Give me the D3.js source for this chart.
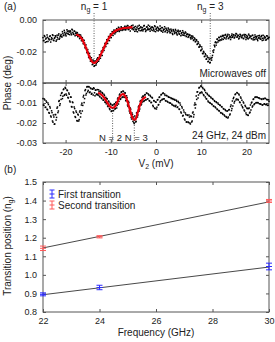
<!DOCTYPE html>
<html>
<head>
<meta charset="utf-8">
<script src="https://cdn.jsdelivr.net/npm/d3@7"></script>
<style>
  body { margin: 0; background: #fff; }
  svg { display: block; font-family: 'Liberation Sans', Arial, sans-serif; }
  .axis path { stroke: none; }
  .axis line { stroke: #555; }
  .axis text { fill: #222; font-size: 9px; }
</style>
</head>
<body>
<div id="chart"></div>
<script>
// ---------- panel (a): gate sweep, V2 from -25 mV in 0.2 mV steps ----------
// two interleaved sweeps: set A starts at -25, set B at -24.9
const sweepStartA = -25;
const sweepStartB = -24.9;
const sweepStep = 0.2;
// phase in units of 1e-4 deg
const phaseOffA = [
  -112,-130,-105,-121,-138,-109,-117,-126,-101,-124,
  -119,-98,-131,-113,-106,-127,-110,-96,-122,-104,
  -92,-108,-85,-99,-78,-94,-83,-71,-90,-76,
  -68,-84,-59,-79,-91,-72,-86,-97,-80,-103,
  -94,-115,-104,-130,-124,-150,-146,-180,-176,-209,
  -205,-239,-231,-261,-254,-281,-266,-290,-262,-278,
  -268,-244,-251,-222,-227,-198,-203,-174,-176,-148,
  -151,-126,-130,-107,-112,-89,-97,-76,-85,-67,
  -77,-63,-72,-58,-68,-52,-64,-49,-61,-55,
  -47,-60,-41,-55,-38,-58,-44,-50,-36,-53,
  -62,-45,-58,-70,-49,-39,-64,-52,-44,-67,
  -48,-60,-35,-57,-66,-43,-52,-61,-40,-55,
  -63,-46,-51,-70,-42,-59,-66,-48,-55,-62,
  -54,-71,-49,-66,-58,-75,-52,-64,-69,-57,
  -63,-78,-66,-85,-61,-74,-80,-68,-88,-72,
  -76,-91,-70,-85,-95,-78,-88,-99,-82,-94,
  -90,-104,-98,-112,-101,-118,-109,-126,-120,-136,
  -128,-152,-147,-171,-166,-190,-184,-214,-205,-231,
  -221,-247,-236,-262,-249,-270,-241,-238,-196,-190,
  -170,-139,-145,-121,-131,-112,-126,-106,-120,-104,
  -98,-114,-92,-109,-101,-118,-95,-106,-112,-89,
  -104,-93,-111,-97,-88,-107,-99,-115,-91,-102,
  -110,-96,-118,-101,-93,-113,-106,-120,-98,-108,
  -103,-119,-97,-114,-125,-106,-111,-122,-100,-117,
  -108,-121,-99,-116,-127,-104,-113,-124,-102,-119,
  -110
];
const phaseOffB = [
  -131,-99,-142,-115,-95,-136,-120,-104,-140,-112,
  -94,-128,-117,-100,-135,-97,-121,-88,-115,-99,
  -105,-74,-96,-66,-88,-101,-62,-85,-70,-93,
  -75,-94,-63,-88,-70,-100,-78,-85,-106,-92,
  -118,-95,-131,-112,-150,-129,-175,-158,-205,-188,
  -236,-212,-262,-240,-283,-255,-294,-260,-287,-249,
  -240,-262,-221,-243,-199,-225,-176,-193,-150,-168,
  -125,-149,-105,-131,-90,-112,-74,-98,-64,-88,
  -79,-55,-70,-46,-73,-60,-43,-66,-50,-62,
  -40,-63,-54,-35,-61,-48,-70,-42,-57,-33,
  -50,-72,-41,-60,-75,-55,-34,-68,-47,-59,
  -69,-38,-56,-73,-45,-62,-33,-58,-71,-49,
  -44,-67,-59,-37,-74,-53,-45,-69,-60,-38,
  -66,-48,-77,-60,-43,-70,-58,-80,-51,-73,
  -82,-58,-71,-92,-67,-86,-60,-79,-95,-65,
  -87,-72,-100,-81,-68,-97,-84,-76,-105,-89,
  -110,-92,-95,-120,-108,-102,-130,-114,-138,-125,
  -155,-138,-172,-158,-195,-171,-212,-199,-232,-214,
  -249,-228,-265,-240,-272,-246,-255,-225,-205,-160,
  -143,-160,-122,-140,-110,-131,-104,-127,-98,-123,
  -112,-96,-120,-103,-91,-115,-108,-124,-99,-110,
  -95,-114,-101,-86,-109,-96,-120,-105,-94,-112,
  -100,-117,-92,-108,-124,-99,-115,-90,-113,-103,
  -118,-98,-126,-110,-95,-120,-104,-131,-113,-98,
  -121,-106,-130,-97,-115,-109,-128,-100,-117,-112
];
const phaseOnA = [
  -78,-112,-85,-121,-96,-134,-108,-151,-125,-170,
  -148,-196,-170,-205,-158,-172,-120,-140,-88,-104,
  -82,-48,-66,-30,-58,-27,-61,-38,-75,-56,
  -95,-71,-120,-98,-150,-128,-172,-147,-190,-160,
  -183,-139,-152,-101,-112,-62,-78,-33,-52,-18,
  -37,-20,-45,-28,-52,-31,-24,-49,-36,-58,
  -33,-61,-42,-70,-45,-78,-52,-86,-63,-97,
  -104,-80,-118,-95,-133,-106,-140,-112,-138,-104,
  -128,-96,-112,-74,-92,-55,-79,-44,-70,-43,
  -72,-50,-88,-73,-117,-98,-150,-131,-180,-158,
  -170,-203,-176,-192,-148,-160,-115,-130,-88,-105,
  -95,-66,-88,-58,-84,-52,-79,-60,-90,-68,
  -97,-75,-118,-90,-128,-96,-121,-83,-108,-70,
  -88,-57,-81,-50,-79,-62,-90,-64,-95,-71,
  -72,-101,-78,-110,-82,-115,-86,-112,-92,-120,
  -98,-132,-110,-150,-125,-162,-145,-185,-158,-195,
  -162,-198,-170,-205,-168,-190,-145,-158,-100,-108,
  -82,-44,-60,-22,-48,-18,-50,-28,-63,-38,
  -48,-80,-58,-95,-66,-101,-75,-108,-82,-117,
  -92,-124,-98,-133,-106,-140,-112,-150,-120,-157,
  -130,-165,-138,-172,-140,-170,-133,-155,-110,-128,
  -115,-72,-92,-55,-80,-50,-85,-60,-98,-76,
  -86,-124,-100,-140,-118,-158,-128,-162,-125,-146,
  -135,-96,-115,-80,-104,-70,-98,-72,-100,-75,
  -78,-106,-82,-110,-80,-104,-78,-108,-84,-111,
  -92
];
const phaseOnB = [
  -110,-80,-122,-90,-131,-100,-148,-118,-165,-139,
  -190,-160,-206,-158,-185,-126,-148,-92,-112,-62,
  -52,-78,-33,-62,-22,-55,-35,-72,-50,-90,
  -70,-118,-95,-145,-120,-168,-140,-188,-156,-190,
  -145,-170,-110,-140,-70,-98,-38,-60,-20,-44,
  -18,-48,-25,-56,-30,-60,-28,-64,-35,-55,
  -58,-34,-66,-40,-75,-48,-85,-57,-95,-72,
  -78,-115,-90,-128,-102,-142,-110,-138,-108,-130,
  -98,-125,-80,-105,-60,-82,-46,-72,-40,-70,
  -50,-88,-64,-110,-92,-140,-125,-172,-150,-192,
  -198,-165,-195,-150,-170,-120,-140,-92,-110,-72,
  -66,-92,-60,-85,-50,-80,-55,-88,-62,-98,
  -72,-112,-88,-125,-95,-130,-85,-110,-72,-95,
  -60,-85,-52,-80,-55,-88,-62,-92,-68,-98,
  -100,-74,-106,-78,-112,-82,-118,-86,-122,-92,
  -130,-100,-145,-118,-165,-135,-180,-150,-195,-160,
  -195,-160,-200,-165,-195,-150,-170,-110,-125,-65,
  -45,-75,-25,-52,-15,-45,-22,-58,-32,-70,
  -78,-52,-90,-62,-98,-70,-105,-78,-115,-88,
  -120,-94,-130,-100,-138,-110,-148,-118,-152,-128,
  -160,-133,-168,-140,-175,-135,-160,-118,-138,-90,
  -78,-100,-58,-85,-48,-82,-55,-95,-70,-110,
  -118,-95,-135,-112,-150,-125,-160,-128,-150,-110,
  -100,-120,-82,-108,-72,-100,-70,-98,-74,-104,
  -105,-80,-110,-78,-106,-76,-108,-82,-112,-84
];
// red fits (same units)
const fitOffV = [-17.6,-17.5,-17,-16.5,-16,-15.5,-15,-14.5,-14,-13.7,-13.5,-13,-12.5,-12,-11.5,-11,-10.5,-10,-9.5,-9,-8.5,-8,-7,-6,-5.2];
const fitOffP = [-90,-93,-101,-116,-142,-176,-214,-249,-269,-272,-271,-258,-236,-206,-175,-144,-118,-97,-81,-70,-62,-57,-51,-48,-45];
const fitOnV = [-12.8,-12.5,-12,-11.5,-11,-10.5,-10,-9.6,-9.2,-8.8,-8.4,-8,-7.6,-7.3,-7,-6.6,-6.2,-5.8,-5.4,-5,-4.8,-4.5,-4.2,-3.8,-3.4,-3,-2.6,-2.2];
const fitOnP = [-48,-52,-60,-73,-90,-108,-121,-125,-121,-108,-88,-68,-58,-56,-60,-75,-100,-132,-163,-182,-185,-180,-160,-128,-100,-82,-74,-70];

// dotted markers: [V2, phase at dip, label]
const ngMarks = [[-13.7, -272, '1'], [12.0, -262, '3']];
const nMarks = [[-9.6, -125, '2'], [-4.8, -185, '3']];

const xTicksA = [-20, -10, 0, 10, 20];
const yTicksOff = [0, -0.02, -0.04];
const yTicksOn = [-0.01, -0.02, -0.03];

// ---------- panel (b) ----------
const freq = [22, 24, 30];
const firstPos = [0.895, 0.932, 1.045];
const firstErr = [0.008, 0.012, 0.018];
const secondPos = [1.143, 1.205, 1.398];
const secondErr = [0.012, 0.006, 0.008];
const fitFreq = [22, 30];
const firstFit = [0.893, 1.042];
const secondFit = [1.145, 1.393];
const xTicksB = [22, 24, 26, 28, 30];
const yTicksB = [0.8, 0.9, 1.0, 1.1, 1.2, 1.3, 1.4, 1.5];

const W = 275, H = 342;
const L = 43, R = 269;

const svg = d3.select('#chart').append('svg').attr('width', W).attr('height', H);
const fmt = f => (d => d3.format(f)(d).replace('\u2212', '-'));

/* ----------scales------------*/
const x = d3.scaleLinear().domain([-25, 25]).range([L, R]);
const yOff = d3.scaleLinear().domain([-0.04, 0]).range([83, 20]);
const yOn = d3.scaleLinear().domain([-0.03, 0]).range([143, 83]);
const xb = d3.scaleLinear().domain([22, 30]).range([L, R]);
const yb = d3.scaleLinear().domain([0.8, 1.5]).range([312, 182]);

function frame(xs, ys, xt, yt, opts) {
  const g = svg.append('g');
  const [y0, y1] = ys.range();
  g.append('rect')
    .attr('x', L).attr('y', y1).attr('width', R - L).attr('height', y0 - y1)
    .style('fill', 'none').style('stroke', '#555').style('stroke-width', 1);
  g.append('g').attr('class', 'axis').attr('transform', 'translate(0,' + y0 + ')')
    .call(d3.axisBottom(xs).tickValues(xt).tickSizeInner(-3).tickSizeOuter(0).tickPadding(6)
      .tickFormat(opts.xlabels ? fmt('d') : ''));
  g.append('g').attr('class', 'axis').attr('transform', 'translate(0,' + y1 + ')')
    .call(d3.axisTop(xs).tickValues(xt).tickSizeInner(-3).tickSizeOuter(0).tickFormat(''));
  g.append('g').attr('class', 'axis').attr('transform', 'translate(' + L + ',0)')
    .call(d3.axisLeft(ys).tickValues(yt).tickSizeInner(-3).tickSizeOuter(0).tickPadding(6)
      .tickFormat(fmt(opts.yfmt)));
  g.append('g').attr('class', 'axis').attr('transform', 'translate(' + R + ',0)')
    .call(d3.axisRight(ys).tickValues(yt).tickSizeInner(-3).tickSizeOuter(0).tickFormat(''));
}

frame(x, yOff, xTicksA, yTicksOff, { xlabels: false, yfmt: '.2f' });
frame(x, yOn, xTicksA, yTicksOn, { xlabels: true, yfmt: '.2f' });
frame(xb, yb, xTicksB, yTicksB, { xlabels: true, yfmt: '.1f' });

/* ----------scatter------------*/
function dots(values, start, ys) {
  svg.append('g').selectAll('rect').data(values).enter().append('rect')
    .attr('x', (d, i) => x(start + i * sweepStep) - 0.75)
    .attr('y', d => ys(d * 1e-4) - 0.75)
    .attr('width', 1.5).attr('height', 1.5)
    .style('fill', '#000');
}
dots(phaseOffA, sweepStartA, yOff);
dots(phaseOffB, sweepStartB, yOff);
dots(phaseOnA, sweepStartA, yOn);
dots(phaseOnB, sweepStartB, yOn);

function fitLine(vs, ps, ys) {
  const line = d3.line().x(d => x(d[0])).y(d => ys(d[1] * 1e-4)).curve(d3.curveCatmullRom.alpha(0.5));
  svg.append('path').datum(vs.map((v, i) => [v, ps[i]]))
    .attr('d', line)
    .style('fill', 'none').style('stroke', '#e8000b').style('stroke-width', 2.2);
}
fitLine(fitOffV, fitOffP, yOff);
fitLine(fitOnV, fitOnP, yOn);

/* ----------dotted guides + labels------------*/
const txt = (xx, yy, s, anchor, size) => svg.append('text')
  .attr('x', xx).attr('y', yy).attr('text-anchor', anchor || 'start')
  .style('font-size', (size || 10) + 'px').style('fill', '#222').text(s);

ngMarks.forEach(m => {
  svg.append('line').attr('x1', x(m[0])).attr('x2', x(m[0]))
    .attr('y1', 13).attr('y2', yOff(m[1] * 1e-4))
    .style('stroke', '#333').style('stroke-width', 0.8).style('stroke-dasharray', '1,1.5');
  const t = txt(x(m[0]), 10, 'n', 'middle');
  t.append('tspan').attr('dy', 2).style('font-size', '7px').text('g');
  t.append('tspan').attr('dy', -2).text(' = ' + m[2]);
});
nMarks.forEach((m, i) => {
  svg.append('line').attr('x1', x(m[0])).attr('x2', x(m[0]))
    .attr('y1', yOn(m[1] * 1e-4)).attr('y2', 142)
    .style('stroke', '#333').style('stroke-width', 0.8).style('stroke-dasharray', '1,1.5');
  txt(x(m[0]) + (i ? 2 : -2), 141, 'N = ' + m[2], 'middle', 9.5);
});

txt(266, 77, 'Microwaves off', 'end');
txt(266, 139, '24 GHz, 24 dBm', 'end');
txt(4, 10, '(a)');
txt(4, 173, '(b)');

const xl = txt(156, 167, 'V', 'middle');
xl.append('tspan').attr('dy', 2).style('font-size', '7px').text('2');
xl.append('tspan').attr('dy', -2).text(' (mV)');
txt(156, 336, 'Frequency (GHz)', 'middle');

txt(0, 0, 'Phase (deg)', 'middle').attr('transform', 'translate(11,83) rotate(-90)');
const yl2 = txt(0, 0, 'Transition position (n', 'middle').attr('transform', 'translate(11,246) rotate(-90)');
yl2.append('tspan').attr('dy', 2).style('font-size', '7px').text('g');
yl2.append('tspan').attr('dy', -2).text(')');

/* ----------panel b: fits + error bars------------*/
const bline = d3.line().x(d => xb(d[0])).y(d => yb(d[1]));
[firstFit, secondFit].forEach(f => {
  svg.append('path').datum(fitFreq.map((v, i) => [v, f[i]]))
    .attr('d', bline).style('fill', 'none').style('stroke', '#333').style('stroke-width', 0.9);
});

function errBars(pos, err, color) {
  const g = svg.append('g').style('stroke', color).style('stroke-width', 1);
  freq.forEach((f, i) => {
    const cx = xb(f);
    g.append('line').attr('x1', cx).attr('x2', cx).attr('y1', yb(pos[i] - err[i])).attr('y2', yb(pos[i] + err[i]));
    [pos[i] - err[i], pos[i], pos[i] + err[i]].forEach(v => {
      g.append('line').attr('x1', cx - 3).attr('x2', cx + 3).attr('y1', yb(v)).attr('y2', yb(v));
    });
  });
}
errBars(firstPos, firstErr, '#2b2bff');
errBars(secondPos, secondErr, '#ff5a5a');

/* ----------legend------------*/
const legend = [['First transition', '#2b2bff'], ['Second transition', '#ff5a5a']];
legend.forEach((d, i) => {
  const ly = 194 + i * 11;
  const g = svg.append('g').style('stroke', d[1]).style('stroke-width', 1);
  g.append('line').attr('x1', 52).attr('x2', 52).attr('y1', ly - 4).attr('y2', ly + 4);
  [-4, 0, 4].forEach(o => g.append('line').attr('x1', 49.5).attr('x2', 54.5).attr('y1', ly + o).attr('y2', ly + o));
  txt(58, ly + 3.5, d[0]);
});
</script>
</body>
</html>
